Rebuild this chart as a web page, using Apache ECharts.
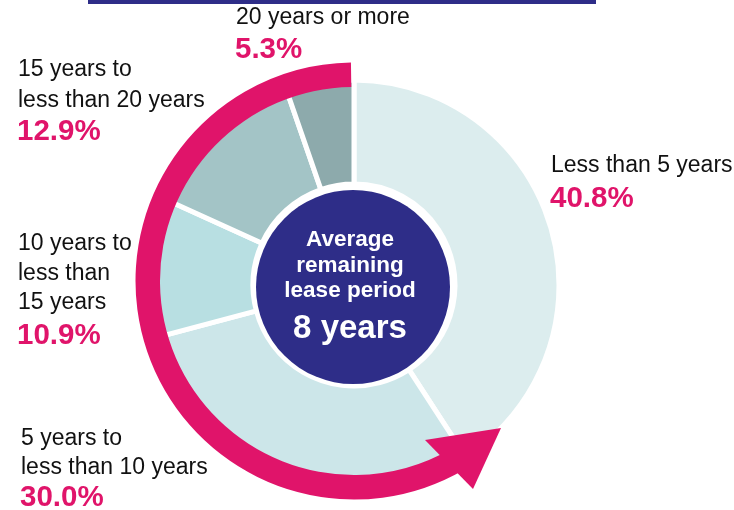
<!DOCTYPE html>
<html>
<head>
<meta charset="utf-8">
<title>Remaining lease period</title>
<script src="https://cdn.jsdelivr.net/npm/echarts@6/dist/echarts.min.js"></script>
<style>
  html, body { margin: 0; padding: 0; background: #ffffff; }
  #chart { width: 734px; height: 510px; }
</style>
</head>
<body>
<div id="chart"></div>
<script>
// Share of leases by remaining lease period (%)
const categories = [
  'Less than 5 years',
  '5 years to less than 10 years',
  '10 years to less than 15 years',
  '15 years to less than 20 years',
  '20 years or more'
];
const shares = [40.8, 30.0, 10.9, 12.9, 5.3];
// How each category name is broken over lines in its label
const labelLines = [
  ['Less than 5 years'],
  ['5 years to', 'less than 10 years'],
  ['10 years to', 'less than', '15 years'],
  ['15 years to', 'less than 20 years'],
  ['20 years or more']
];
const averageCaption = ['Average', 'remaining', 'lease period'];
const averageYears = 8;

const sliceColors = ['#dcedee', '#cce6e9', '#b8dfe2', '#a3c4c6', '#8daaac'];
const PINK = '#e0146a';
const NAVY = '#2e2d88';
const FONT = '"Liberation Sans", Arial, sans-serif';

// Where each label block sits: left x, centre y of first line, line step, centre y of value
const labelPlace = [
  { x: 551, y: 166, step: 30, vy: 199 },
  { x: 21,  y: 439, step: 29, vy: 498 },
  { x: 18,  y: 244, step: 29.5, vy: 336 },
  { x: 18,  y: 70,  step: 31, vy: 132 },
  { x: 236, y: 18,  step: 30, vy: 50 }
];

const cx = 354, cy = 285;

const graphics = [];

// rule across the top
graphics.push({
  type: 'rect', z: 10,
  shape: { x: 88, y: 0, width: 508, height: 4 },
  style: { fill: NAVY }
});

// pink arrow running anticlockwise around the ring
const arcCx = 354, arcCy = 281;
graphics.push({
  type: 'sector', z: 20,
  shape: {
    cx: arcCx, cy: arcCy, r0: 194, r: 218.5,
    startAngle: Math.PI / 3,
    endAngle: (269.2 / 180) * Math.PI,
    clockwise: true
  },
  style: { fill: PINK }
});
graphics.push({
  type: 'polygon', z: 21,
  shape: { points: [[501, 428], [425, 440], [473, 489]] },
  style: { fill: PINK }
});

// centre disc with the average
graphics.push({
  type: 'circle', z: 20,
  shape: { cx: 353, cy: 287, r: 97 },
  style: { fill: NAVY }
});
const captionY = [240, 265.5, 291];
averageCaption.forEach((t, i) => {
  graphics.push({
    type: 'text', z: 22, x: 350, y: captionY[i],
    style: {
      text: t, fill: '#ffffff', fontFamily: FONT, fontWeight: 'bold',
      fontSize: 22.5, align: 'center', verticalAlign: 'middle'
    }
  });
});
graphics.push({
  type: 'text', z: 22, x: 350, y: 329,
  style: {
    text: averageYears + ' years', fill: '#ffffff', fontFamily: FONT,
    fontWeight: 'bold', fontSize: 33, align: 'center', verticalAlign: 'middle'
  }
});

// category labels with their shares
labelLines.forEach((lines, i) => {
  const p = labelPlace[i];
  lines.forEach((t, j) => {
    graphics.push({
      type: 'text', z: 22, x: p.x, y: p.y + j * p.step,
      style: {
        text: t, fill: '#111111', fontFamily: FONT, fontSize: 23,
        align: 'left', verticalAlign: 'middle'
      }
    });
  });
  graphics.push({
    type: 'text', z: 22, x: p.x - 1, y: p.vy,
    style: {
      text: shares[i].toFixed(1) + '%', fill: PINK, fontFamily: FONT,
      fontWeight: 'bold', fontSize: 29.5, align: 'left', verticalAlign: 'middle'
    }
  });
});

const chart = echarts.init(document.getElementById('chart'), null, { renderer: 'canvas' });
chart.setOption({
  backgroundColor: '#ffffff',
  animation: false,
  series: [{
    type: 'pie',
    center: [cx, cy],
    radius: [101, 205],
    startAngle: 90,
    clockwise: true,
    label: { show: false },
    labelLine: { show: false },
    emphasis: { disabled: true },
    itemStyle: { borderColor: '#ffffff', borderWidth: 5 },
    data: categories.map((name, i) => ({
      name: name,
      value: shares[i],
      itemStyle: { color: sliceColors[i] }
    }))
  }],
  graphic: { elements: graphics }
});
</script>
</body>
</html>
